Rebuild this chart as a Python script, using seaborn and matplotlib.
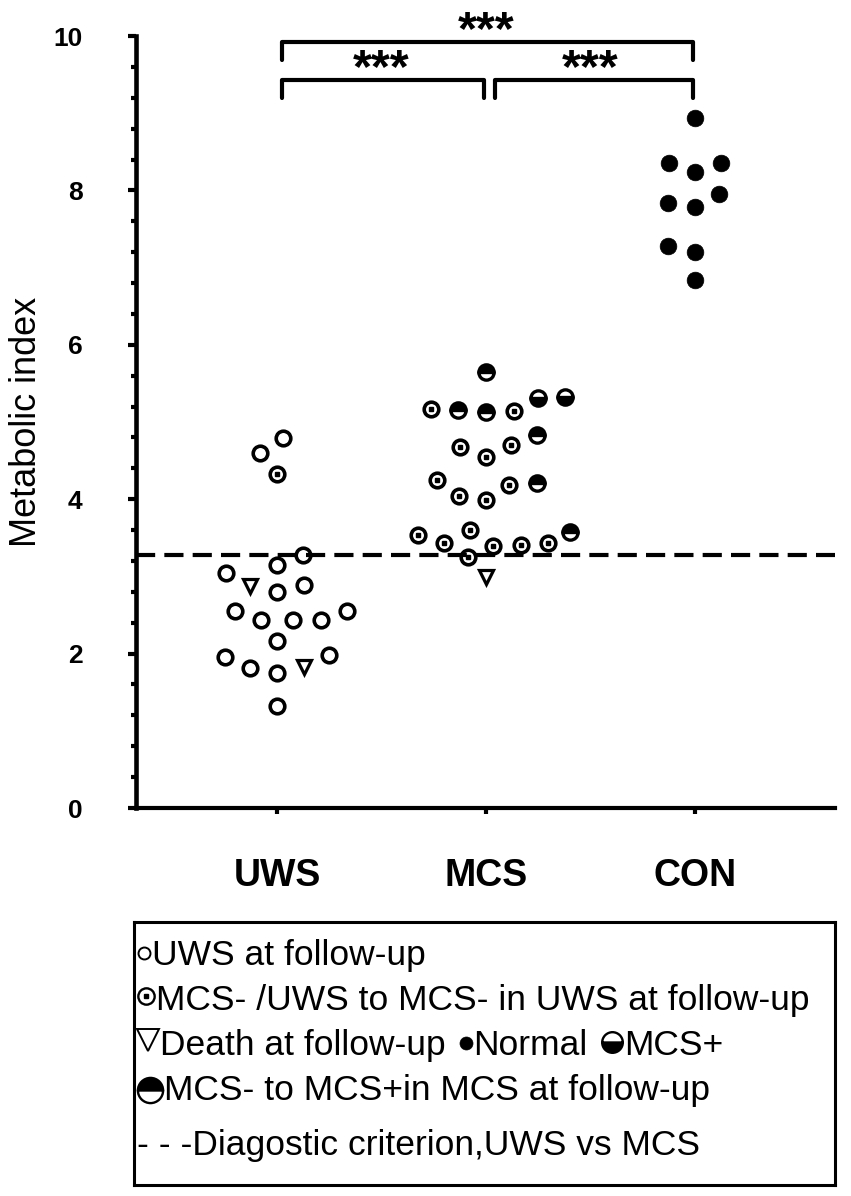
import numpy as np
import pandas as pd
import seaborn as sns
import matplotlib.pyplot as plt
from matplotlib.ticker import MultipleLocator

# values (metabolic index)
groups = ['UWS', 'MCS', 'CON']
uws_open = [4.79, 4.60, 3.28, 3.15, 3.04, 2.89, 2.80, 2.55, 2.55, 2.44, 2.44, 2.44,
            2.16, 1.98, 1.96, 1.81, 1.75, 1.32]
uws_dot = [4.33]
uws_death = [2.88, 1.83]
mcs_dot = [5.17, 5.14, 4.70, 4.68, 4.55, 4.25, 4.18, 4.04, 3.99,
           3.60, 3.53, 3.43, 3.43, 3.41, 3.40, 3.25]
mcs_plus = [5.33, 5.31]
mcs_conv = [5.65, 5.16, 5.13, 4.83, 4.21, 3.58]
mcs_death = [2.99]
con_normal = [8.94, 8.36, 8.36, 8.24, 7.95, 7.84, 7.79, 7.28, 7.20, 6.84]

criterion = 3.28
y_ticks = [0, 2, 4, 6, 8, 10]
comparisons = [('UWS', 'CON', '***'), ('UWS', 'MCS', '***'), ('MCS', 'CON', '***')]

# legend rows: symbol keys mixed with text pieces
legend_rows = [['open', 'UWS at follow-up'],
               ['dot', 'MCS- /UWS to MCS- in UWS at follow-up'],
               ['death', 'Death at follow-up ', 'normal', 'Normal ', 'plus', 'MCS+'],
               ['conv', 'MCS- to MCS+in MCS at follow-up'],
               ['- - -Diagostic criterion,UWS vs MCS']]

records = []
for grp, status, vals in [('UWS', 'open', uws_open), ('UWS', 'dot', uws_dot),
                          ('UWS', 'death', uws_death), ('MCS', 'dot', mcs_dot),
                          ('MCS', 'plus', mcs_plus), ('MCS', 'conv', mcs_conv),
                          ('MCS', 'death', mcs_death), ('CON', 'normal', con_normal)]:
    records += [(grp, status, v) for v in vals]
df = pd.DataFrame(records, columns=['group', 'status', 'value'])

sns.set_theme(style='ticks', rc={'axes.edgecolor': 'black', 'xtick.color': 'black',
                                 'ytick.color': 'black', 'text.color': 'black',
                                 'axes.labelcolor': 'black'})
plt.rcParams['font.family'] = ['Liberation Sans', 'DejaVu Sans']

W, H = 851, 1196
fig = plt.figure(figsize=(W / 100, H / 100), dpi=100)
ax = fig.add_axes([136 / W, 388 / H, 699 / W, 772 / H])

# swarm layout from seaborn, then redraw with the custom symbols
status_list = ['open', 'dot', 'death', 'normal', 'plus', 'conv']
pal = dict(zip(status_list, sns.color_palette('tab10', len(status_list))))
sns.swarmplot(data=df, x='group', y='value', hue='status', order=groups,
              hue_order=status_list, palette=pal, size=19, linewidth=0,
              legend=False, ax=ax)
ax.set_xlim(-0.675, 2.67)
ax.set_ylim(0, 10)
fig.canvas.draw()

pos = {s: [] for s in status_list}
for coll in list(ax.collections):
    for (x, y), fc in zip(coll.get_offsets(), coll.get_facecolors()):
        for s, c in pal.items():
            if np.allclose(fc[:3], c, atol=1e-3):
                pos[s].append((x, y))
    coll.remove()


def marker_style(key, scale=1.0, lw=None):
    base = {
        'open': dict(marker='o', ms=10.5, mfc='white', mec='black', mew=2.6),
        'dot': dict(marker='o', ms=10.5, mfc='white', mec='black', mew=2.6),
        'death': dict(marker='v', ms=9.5, mfc='white', mec='black', mew=2.3),
        'normal': dict(marker='o', ms=12, mfc='black', mec='black', mew=0.5),
        'plus': dict(marker='o', ms=11, fillstyle='bottom', mfc='black',
                     markerfacecoloralt='white', mec='black', mew=2.4),
        'conv': dict(marker='o', ms=11, fillstyle='top', mfc='black',
                     markerfacecoloralt='white', mec='black', mew=2.4),
    }[key].copy()
    base['ms'] *= scale
    if lw is not None:
        base['mew'] = lw
    return base


def draw_symbol(axis, key, x, y, scale=1.0, lw=None, z=3):
    axis.plot(x, y, ls='none', zorder=z, **marker_style(key, scale, lw))
    if key == 'dot':
        axis.plot(x, y, ls='none', marker='s', ms=2.6 * scale, color='black', zorder=z + 1)


for key in status_list:
    a = np.array(pos[key]).reshape(-1, 2)
    draw_symbol(ax, key, a[:, 0], a[:, 1])

ax.axhline(criterion, color='black', lw=3, ls=(0, (4.6, 2.2)), zorder=6)

# significance brackets
idx = {g: i for i, g in enumerate(groups)}
for a, b, lab in comparisons:
    i, j = idx[a], idx[b]
    top = 9.92 if (j - i) == 2 else 9.43
    x0, x1 = i + 0.025 + (0.02 if i == 1 else 0), j - 0.01
    ax.plot([x0, x0, x1, x1], [top - 0.23, top, top, top - 0.23], color='black',
            lw=3, solid_capstyle='round', clip_on=False)
    ax.text((i + j) / 2, top - 0.03, lab, ha='center', va='baseline',
            fontsize=35, fontweight='bold', clip_on=False)

sns.despine(ax=ax)
ax.spines['left'].set_linewidth(3.3)
ax.spines['bottom'].set_linewidth(3.0)
ax.set_yticks(y_ticks)
ax.set_yticklabels([str(t) for t in y_ticks], fontweight='bold', fontsize=19)
ax.yaxis.set_minor_locator(MultipleLocator(0.4))
ax.tick_params(axis='y', which='major', length=5.5, width=3, pad=33)
ax.tick_params(axis='y', which='minor', length=3.5, width=3)
ax.tick_params(axis='x', length=4, width=3, pad=32)
ax.set_xticklabels(groups, fontweight='bold', fontsize=27)
ax.set_xlabel('')
ax.set_ylabel('Metabolic index', fontsize=26)
ax.yaxis.set_label_coords(-0.1316, 0.5)

# legend box, laid out in pixel coordinates of the image
lax = fig.add_axes([134 / W, 11 / H, 701 / W, 263 / H])
lax.set_xlim(134, 835)
lax.set_ylim(1185, 922)
lax.set_xticks([])
lax.set_yticks([])
for sp in lax.spines.values():
    sp.set_visible(True)
    sp.set_linewidth(2.2)
    sp.set_color('black')

legend_sym = {'open': (0.82, 1.4, 14, 12), 'dot': (1.12, 1.7, 18, 14),
              'death': (1.6, 1.4, 22, 15), 'normal': (0.78, None, 13, 12),
              'plus': (1.35, 1.7, 21, 13), 'conv': (1.65, 1.7, 26, 10)}
renderer = fig.canvas.get_renderer()
for row, base in zip(legend_rows, [965, 1010, 1055, 1100, 1155]):
    x = 137
    for piece in row:
        if piece in legend_sym:
            scale, lw, width, lift = legend_sym[piece]
            draw_symbol(lax, piece, x + width / 2, base - lift, scale, lw)
            x += width + 1
        else:
            t = lax.text(x, base, piece.rstrip(), ha='left', va='baseline', fontsize=25.5)
            x += t.get_window_extent(renderer).width
            if piece.endswith(' '):
                x += 14

fig.savefig('out.png', dpi=100)
